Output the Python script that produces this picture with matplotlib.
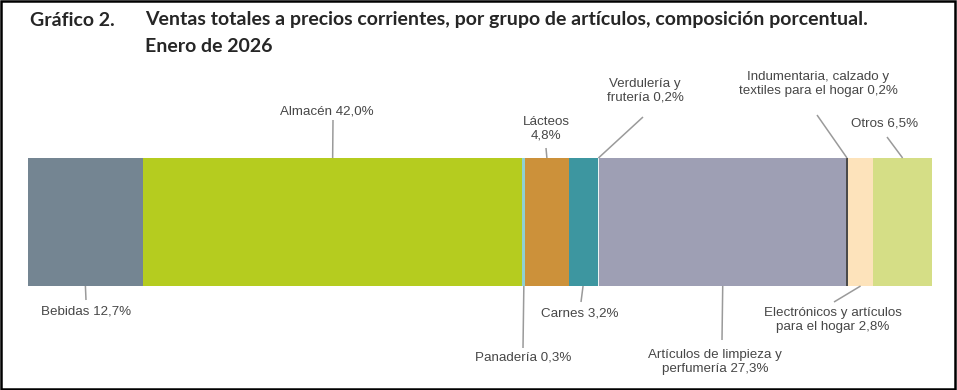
import matplotlib
matplotlib.use("Agg")
import matplotlib.pyplot as plt
from matplotlib.patches import Rectangle

# Ventas por grupo de artículos, enero 2026 (%)
categorias = ["Bebidas", "Almacén", "Panadería", "Lácteos", "Carnes",
              "Verdulería y frutería", "Artículos de limpieza y perfumería",
              "Indumentaria, calzado y textiles para el hogar",
              "Electrónicos y artículos para el hogar", "Otros"]
valores = [12.7, 42.0, 0.3, 4.8, 3.2, 0.2, 27.3, 0.2, 2.8, 6.5]
etiquetas = ["Bebidas 12,7%", "Almacén 42,0%", "Panadería 0,3%", "Lácteos\n4,8%",
             "Carnes 3,2%", "Verdulería y\nfrutería 0,2%",
             "Artículos de limpieza y\nperfumería 27,3%",
             "Indumentaria, calzado y\ntextiles para el hogar 0,2%",
             "Electrónicos y artículos\npara el hogar 2,8%", "Otros 6,5%"]
colores = ["#748592", "#b5cc1f", "#8fd0d2", "#cc913a", "#3d96a0",
           "#eef4f4", "#9e9fb4", "#4a4a4a", "#fde3bb", "#d5de86"]

W, H = 957, 390
bar_l, bar_r, bar_t, bar_b = 28, 932, 158, 286

fig = plt.figure(figsize=(W / 100, H / 100), dpi=100)
ax = fig.add_axes([bar_l / W, 1 - bar_b / H, (bar_r - bar_l) / W, (bar_b - bar_t) / H])
ax.set_xlim(0, 100)
ax.set_ylim(0, 1)
ax.axis("off")

def py(p):
    # pixel row -> bar units
    return (bar_b - p) / (bar_b - bar_t)

def px(p):
    return (p - bar_l) / (bar_r - bar_l) * 100

izq = 0
centros = []
for v, c in zip(valores, colores):
    ax.barh(0.5, v, left=izq, height=1, color=c, edgecolor="none")
    centros.append(izq + v / 2)
    izq += v

# text position (px), leader start point (px, on label side)
posiciones = [
    ((86, 311), (86, 300)),
    ((327, 111), (333, 120)),
    ((523, 358), (523, 348)),
    ((546, 129), (546, 148)),
    ((580, 313), (581, 302)),
    ((645, 91), (643, 117)),
    ((715, 362), (722, 340)),
    ((818, 84), (817, 115)),
    ((833, 320), (834, 302)),
    ((885, 123), (887, 137)),
]

gris = "#474747"
for lab, cx, (tp, lp) in zip(etiquetas, centros, posiciones):
    arriba = lp[1] < bar_t
    y_bar = 1.0 if arriba else 0.0
    ax.plot([px(lp[0]), cx], [py(lp[1]), y_bar], color="#9a9a9a", lw=1.1,
            clip_on=False, solid_capstyle="butt")
    ax.text(px(tp[0]), py(tp[1]), lab, ha="center", va="center", fontsize=9.6,
            color=gris, family="Liberation Sans", linespacing=1.15, clip_on=False)

# title
tit = dict(fontsize=14, fontweight="bold", family="Lato", color="#262626", va="center")
fig.text(30 / W, 1 - 20 / H, "Gráfico 2.", **tit)
fig.text(145 / W, 1 - 20 / H,
         "Ventas totales a precios corrientes, por grupo de artículos, composición porcentual.",
         **tit)
fig.text(145 / W, 1 - 46 / H, "Enero de 2026", **tit)

# frame
fig.patches.append(Rectangle((0.001, 0.003), 0.997, 0.995, transform=fig.transFigure,
                             fill=False, edgecolor="black", lw=1.8))

fig.savefig("out.png", dpi=100)
